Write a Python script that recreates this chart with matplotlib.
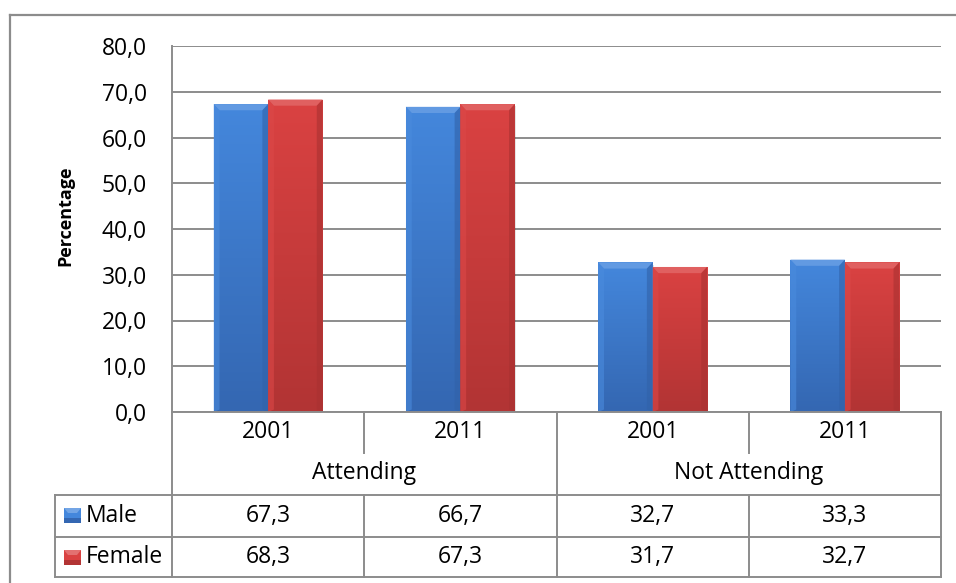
import numpy as np
import matplotlib
matplotlib.use("Agg")
import matplotlib.pyplot as plt
from matplotlib.patches import Rectangle, Polygon
from matplotlib.lines import Line2D
from matplotlib.transforms import blended_transform_factory
from matplotlib.colors import to_rgb

# ---- data -------------------------------------------------------------
groups = ["Attending", "Not Attending"]
years = ["2001", "2011", "2001", "2011"]
series_names = ["Male", "Female"]
male = [67.3, 66.7, 32.7, 33.3]
female = [68.3, 67.3, 31.7, 32.7]
y_ticks = [0, 10, 20, 30, 40, 50, 60, 70, 80]

# ---- styling ----------------------------------------------------------
W, H = 956, 583
plt.rcParams['font.family'] = ['Open Sans', 'DejaVu Sans']
GRID = "#8C8C8C"
FS = 16.5

series_colors = {
    "Male": ("#4487DC", "#3467B2"),
    "Female": ("#DA4242", "#B23434"),
}

fig = plt.figure(figsize=(W / 100, H / 100), dpi=100)
fig.patch.set_facecolor("white")


def fx(px):
    return px / W


def fy(py):
    return 1 - py / H


ax = fig.add_axes([fx(172), fy(412), fx(941) - fx(172), fy(46) - fy(412)])
ax.set_xlim(-0.5, 3.5)
ax.set_ylim(0, 80)
ax.set_yticks(y_ticks)
ax.set_yticklabels([f"{v:.1f}".replace(".", ",") for v in y_ticks], fontsize=FS)
ax.tick_params(axis="y", length=0, pad=18)
ax.set_xticks([])
ax.grid(axis="y", color=GRID, linewidth=1.4)
ax.set_axisbelow(True)
for s in ["top", "right"]:
    ax.spines[s].set_visible(False)
for s in ["left", "bottom"]:
    ax.spines[s].set_color(GRID)
    ax.spines[s].set_linewidth(1.4)

ax.set_ylabel("Percentage", fontsize=13, fontweight="bold")
ax.yaxis.set_label_coords((74 - 172) / (941 - 172), (412 - 216) / (412 - 46))

x = np.arange(len(years))
width = 0.283
BX, BY = 0.03, 1.35  # bevel size in data units


def shade(c, f):
    c = np.array(to_rgb(c))
    if f >= 1:
        return tuple(c + (1 - c) * (f - 1))
    return tuple(c * f)


def draw_bevel_bars(xs, vals, name):
    top, bot = series_colors[name]
    bars = ax.bar(xs, vals, width, color=top, linewidth=0, zorder=2)
    t = np.linspace(0, 1, 64)[:, None]
    grad = (np.array(to_rgb(top))[None, :] * (1 - t) + np.array(to_rgb(bot))[None, :] * t)[:, None, :]
    for b in bars:
        x0, w, h = b.get_x(), b.get_width(), b.get_height()
        x1 = x0 + w
        # soft shadow
        ax.add_patch(Rectangle((x0 + 0.005, -0.5), w, h, color="#000000",
                               alpha=0.10, linewidth=0, zorder=1.5))
        im = ax.imshow(grad, extent=(x0, x1, 0, h), aspect="auto",
                       interpolation="bilinear", zorder=2.1)
        im.set_clip_path(b)
        # bevel faces
        ax.add_patch(Polygon([(x0, h), (x1, h), (x1 - BX, h - BY), (x0 + BX, h - BY)],
                             closed=True, color=shade(top, 1.16), linewidth=0, zorder=2.2))
        ax.add_patch(Polygon([(x0, h), (x0 + BX, h - BY), (x0 + BX, BY * 0.4), (x0, 0)],
                             closed=True, color=shade(top, 1.03), alpha=0.6,
                             linewidth=0, zorder=2.2))
        ax.add_patch(Polygon([(x1, h), (x1 - BX, h - BY), (x1 - BX, BY * 0.4), (x1, 0)],
                             closed=True, color=shade(bot, 0.95), alpha=0.6,
                             linewidth=0, zorder=2.2))
    return bars


draw_bevel_bars(x - width / 2, male, "Male")
draw_bevel_bars(x + width / 2, female, "Female")
ax.set_xlim(-0.5, 3.5)
ax.set_ylim(0, 80)

# ---- data table under the axis ---------------------------------------
bt = blended_transform_factory(ax.transData, fig.transFigure)
ft = fig.transFigure


def vline_data(xd, y0, y1):
    fig.add_artist(Line2D([xd, xd], [fy(y0), fy(y1)], transform=bt,
                          color=GRID, linewidth=1.4))


def hline(x0, x1, y):
    fig.add_artist(Line2D([fx(x0), fx(x1)], [fy(y), fy(y)], transform=ft,
                          color=GRID, linewidth=1.4))


for yy in [495, 537, 577]:
    hline(55, 941, yy)
vline_data(-0.5, 412, 577)
vline_data(1.5, 412, 577)
vline_data(3.5, 412, 577)
for xd in [0.5, 2.5]:
    vline_data(xd, 412, 453)
    vline_data(xd, 495, 577)
fig.add_artist(Line2D([fx(55), fx(55)], [fy(495), fy(577)], transform=ft,
                      color=GRID, linewidth=1.4))

for xi, yr in zip(x, years):
    fig.text(xi, fy(432), yr, transform=bt, ha="center", va="center", fontsize=FS)
for gi, g in enumerate(groups):
    fig.text(2 * gi + 0.5, fy(473), g, transform=bt, ha="center", va="center", fontsize=FS)

rows = [("Male", male, 516, 508), ("Female", female, 557, 550)]
for name, vals, ty, ky in rows:
    top, bot = series_colors[name]
    fig.add_artist(Rectangle((fx(64), fy(ky + 15)), fx(17), 15 / H, transform=ft,
                             facecolor=top, edgecolor="none"))
    fig.add_artist(Polygon([(fx(64), fy(ky)), (fx(81), fy(ky)), (fx(77), fy(ky + 5)),
                            (fx(68), fy(ky + 5))], closed=True, transform=ft,
                           facecolor=shade(top, 1.25), edgecolor="none"))
    fig.add_artist(Rectangle((fx(64), fy(ky + 15)), fx(17), 5 / H, transform=ft,
                             facecolor=bot, edgecolor="none"))
    fig.text(fx(86), fy(ty), name, transform=ft, ha="left", va="center", fontsize=FS)
    for xi, v in zip(x, vals):
        fig.text(xi, fy(ty), f"{v:.1f}".replace(".", ","), transform=bt,
                 ha="center", va="center", fontsize=FS)

# outer chart frame
fig.add_artist(Line2D([fx(10), fx(10)], [fy(15), fy(583)], transform=ft,
                      color=GRID, linewidth=1.6))
fig.add_artist(Line2D([fx(10), fx(956)], [fy(15), fy(15)], transform=ft,
                      color=GRID, linewidth=1.6))

fig.savefig("out.png", dpi=100, facecolor="white")
